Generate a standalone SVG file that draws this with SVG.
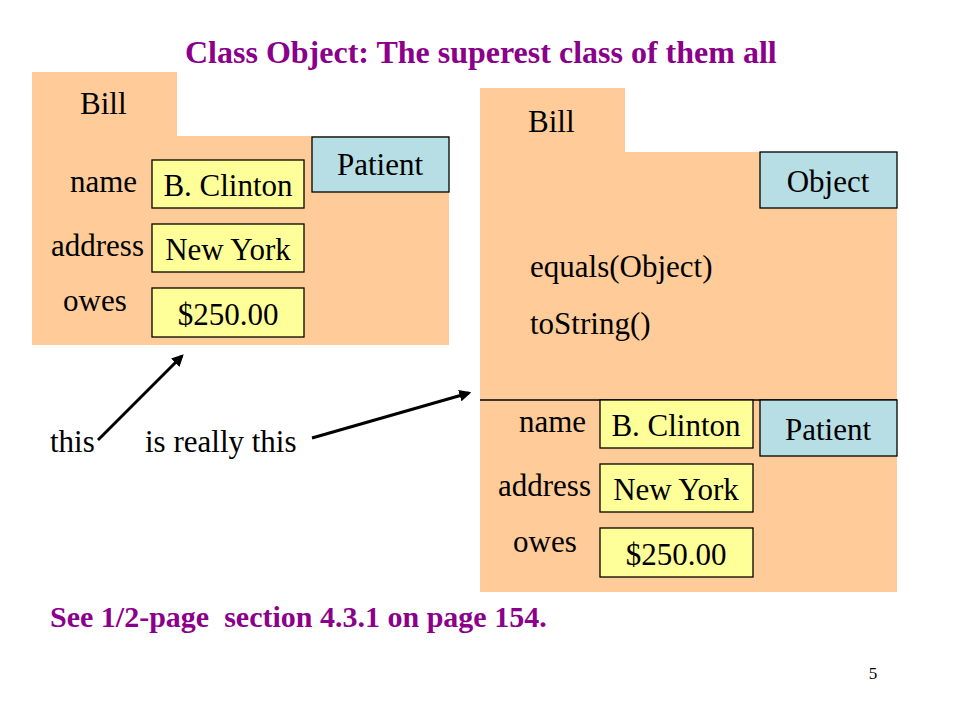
<svg xmlns="http://www.w3.org/2000/svg" width="960" height="720" viewBox="0 0 960 720">
<defs>
<style>
text{font-family:"Liberation Serif","Times New Roman",serif;fill:#000}
.t{font-size:31px}
.h{font-size:32px;font-weight:bold;fill:#8B008B}
.f{font-size:30px;font-weight:bold;fill:#8B008B}
.obj{fill:#FFCC99}
.fld{fill:#FFFF99;stroke:#000;stroke-width:1.3}
.cls{fill:#B7DEE5;stroke:#000;stroke-width:1.3}
.c{text-anchor:middle}
.arr{stroke:#000;stroke-width:3;fill:none;marker-end:url(#ah)}
</style>
<marker id="ah" viewBox="0 0 10 10" refX="8" refY="5" markerWidth="4" markerHeight="4" orient="auto" markerUnits="strokeWidth">
<path d="M0,0 L10,5 L0,10 z" fill="#000"/>
</marker>
</defs>
<rect width="960" height="720" fill="#fff"/>
<text class="h" x="185" y="63">Class Object: The superest class of them all</text>

<g id="left-object">
<path class="obj" d="M32,72 H177 V136 H449 V345 H32 Z"/>
<text class="t" x="80" y="114">Bill</text>
<rect class="cls" x="312" y="137" width="137" height="55"/>
<text class="t c" x="380" y="175">Patient</text>
<text class="t" x="70" y="192">name</text>
<text class="t" x="51" y="256">address</text>
<text class="t" x="63" y="311">owes</text>
<rect class="fld" x="152" y="160" width="152" height="48"/>
<text class="t c" x="228" y="196">B. Clinton</text>
<rect class="fld" x="152" y="224" width="152" height="48"/>
<text class="t c" x="228" y="260">New York</text>
<rect class="fld" x="152" y="288" width="152" height="49"/>
<text class="t c" x="228" y="325">$250.00</text>
</g>

<g id="right-object">
<path class="obj" d="M480,88 H625 V152 H897 V592 H480 Z"/>
<text class="t" x="528" y="132">Bill</text>
<rect class="cls" x="760" y="152" width="137" height="56"/>
<text class="t c" x="828" y="192">Object</text>
<text class="t" x="530" y="277">equals(Object)</text>
<text class="t" x="530" y="334">toString()</text>
<line x1="480" y1="400" x2="897" y2="400" stroke="#000" stroke-width="1.3"/>
<rect class="cls" x="760" y="400" width="137" height="56"/>
<text class="t c" x="828" y="440">Patient</text>
<text class="t" x="519" y="432">name</text>
<text class="t" x="498" y="496">address</text>
<text class="t" x="513" y="552">owes</text>
<rect class="fld" x="600" y="400" width="153" height="48"/>
<text class="t c" x="676" y="436">B. Clinton</text>
<rect class="fld" x="600" y="464" width="153" height="48"/>
<text class="t c" x="676" y="500">New York</text>
<rect class="fld" x="600" y="528" width="153" height="49"/>
<text class="t c" x="676" y="565">$250.00</text>
</g>

<g id="labels">
<text class="t" x="50" y="452">this</text>
<text class="t" x="145" y="452">is really this</text>
</g>

<g id="connectors">
<line class="arr" x1="98" y1="440" x2="182" y2="356"/>
<line class="arr" x1="312" y1="438" x2="469" y2="393"/>
</g>

<text class="f" x="50" y="627" xml:space="preserve">See 1/2-page  section 4.3.1 on page 154.</text>
<text x="873" y="679" font-size="17" text-anchor="middle">5</text>
</svg>
